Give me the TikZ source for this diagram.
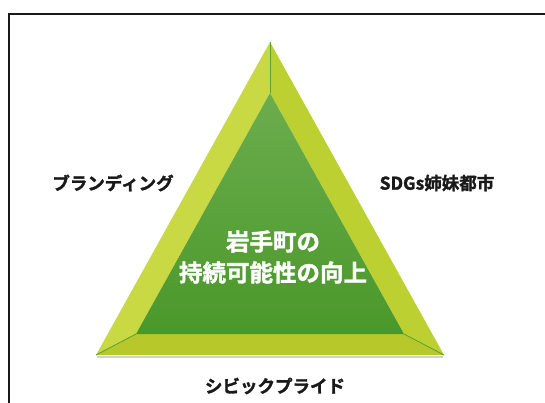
\documentclass[tikz,border=0pt]{standalone}
\usepackage{fontspec}
\newfontfamily\jpfont{Noto Sans CJK JP Bold}[FakeBold=1.6]
\begin{document}
\begin{tikzpicture}[x=1pt,y=-1pt,
  lbl/.style={font=\jpfont\fontsize{17.5}{19}\selectfont, text=black!90, inner sep=0pt},
  ctr/.style={font=\jpfont\fontsize{23.5}{31}\selectfont, text=white, align=center, inner sep=0pt},
  ridge/.style={draw=ridgegreen, line width=0.8pt}]
\definecolor{leftface}{HTML}{C8D944}
\definecolor{rightface}{HTML}{BDD032}
\definecolor{bottomface}{HTML}{B6C82A}
\definecolor{innertop}{HTML}{6CAD4E}
\definecolor{innerbot}{HTML}{4A982A}
\definecolor{ridgegreen}{HTML}{5E9E34}
\useasboundingbox (0,0) rectangle (545,403);
\begin{scope}
\clip (0,0) rectangle (545,403);
\draw[line width=2.8pt, black!90] (9,14) rectangle (560,420);
\end{scope}
% corners
\coordinate (oa) at (270,42);
\coordinate (ol) at (96,355);
\coordinate (or) at (444,355);
\coordinate (ia) at (270,93);
\coordinate (il) at (136,334);
\coordinate (ir) at (404,334);
% shadow
\fill[black!18] (97,356) -- (443,356) -- (443,358) -- (97,358) -- cycle;
% faces
\fill[leftface] (oa) -- (ol) -- (il) -- (ia) -- cycle;
\fill[rightface] (oa) -- (or) -- (ir) -- (ia) -- cycle;
\fill[bottomface] (ol) -- (or) -- (ir) -- (il) -- cycle;
\shade[top color=innertop, bottom color=innerbot] (ia) -- (il) -- (ir) -- cycle;
\draw[ridge] (oa) -- (ia);
\draw[ridge] (ol) -- (il);
\draw[ridge] (or) -- (ir);
% labels
\node[lbl] (brand) at (113,183) {ブランディング};
\node[lbl] (sdgs) at (437,183) {SDGs姉妹都市};
\node[lbl] (civic) at (275,386) {シビックプライド};
\node[ctr] (center) at (273,257) {岩手町の\\持続可能性の向上};
\end{tikzpicture}
\end{document}
